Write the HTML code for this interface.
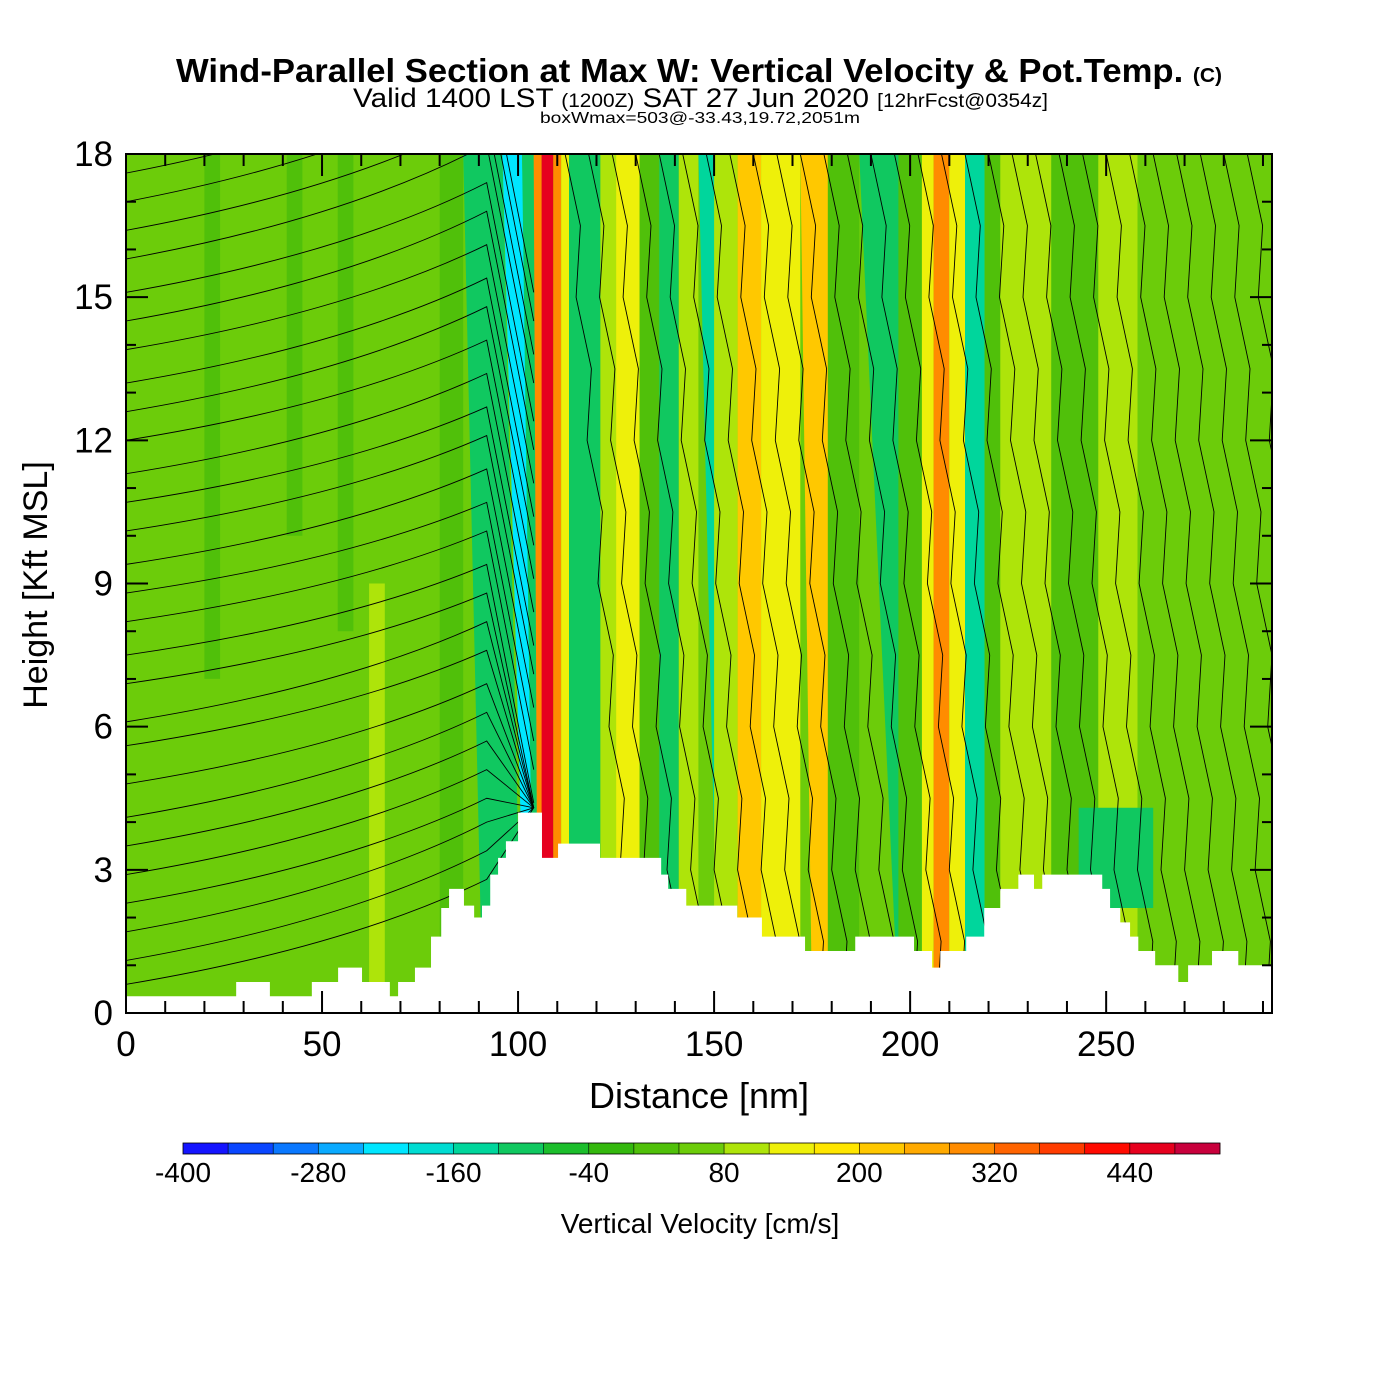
<!DOCTYPE html>
<html><head><meta charset="utf-8">
<style>
html,body{margin:0;padding:0;background:#fff;}
svg{display:block;}
text{font-family:"Liberation Sans",sans-serif;}
</style></head>
<body>
<svg id="chart" width="1400" height="1400" viewBox="0 0 1400 1400" xmlns="http://www.w3.org/2000/svg">
<rect width="1400" height="1400" fill="#fff"/>
<text x="176" y="82" font-size="33" font-weight="bold" textLength="1046" lengthAdjust="spacingAndGlyphs">Wind-Parallel Section at Max W: Vertical Velocity &amp; Pot.Temp. <tspan font-size="20">(C)</tspan></text>
<text x="353" y="107" font-size="27" textLength="695" lengthAdjust="spacingAndGlyphs">Valid 1400 LST <tspan font-size="19">(1200Z)</tspan> SAT 27 Jun 2020 <tspan font-size="19">[12hrFcst@0354z]</tspan></text>
<text x="540" y="123" font-size="16" textLength="320" lengthAdjust="spacingAndGlyphs">boxWmax=503@-33.43,19.72,2051m</text>
<defs><clipPath id="plotclip"><rect x="126" y="154" width="1146" height="859"/></clipPath></defs>
<g id="field" clip-path="url(#plotclip)"></g>
<g id="contours" clip-path="url(#plotclip)"></g>
<g id="terrain" clip-path="url(#plotclip)"></g>
<rect x="126" y="154" width="1146" height="859" fill="none" stroke="#000" stroke-width="2"/>
<g id="axes"></g>
<g id="colorbar"></g>
<text x="699" y="1108" text-anchor="middle" font-size="36">Distance [nm]</text>
<text x="0" y="0" transform="translate(47,585) rotate(-90)" text-anchor="middle" font-size="34">Height [Kft MSL]</text>
<text x="700" y="1233" text-anchor="middle" font-size="28">Vertical Velocity [cm/s]</text>
</svg>
<script>
// ---- data ----
const binColors = ["#1414ff","#0a46ff","#0a78ff","#0aaaff","#00e6ff","#00dcd2","#00d69c","#10c860","#1cbe2c","#34b80e","#50c00a","#6ccc0a","#aee40a","#eef00a","#ffe600","#ffc800","#ffaa00","#ff8c00","#ff6400","#ff3c00","#ff0a00","#e6001e","#c8003c"];
const cbTickLabels = ["-400","-280","-160","-40","80","200","320","440"];
const backgroundW = 50;
// vertical velocity bands: left nm, right nm, w (cm/s), shift at ground (nm), min/max height (kft)
const bandLeft  = [20,41,54,62,80,86,96,101,104,106,109,111,113,121,125,131,136,141,146,150,156,162,172,179,187,197,203,206,210,214,219,223,236,248,243];
const bandRight = [24,45,58,66,86,96,101,104,106,109,111,113,121,125,131,136,141,146,150,156,162,172,179,187,197,203,206,210,214,219,223,236,248,258,262];
const bandW     = [0,0,0,100,0,-100,-240,-120,300,440,280,150,-100,90,150,0,-100,80,-160,80,200,140,220,0,-110,0,150,300,150,-160,0,100,0,100,-120];
const bandShift = [0,0,0,0,0,5,6,3,1,0,0,0,0,0,0,0,0,0,5,0,0,0,3,0,10,0,0,0,0,0,0,0,0,0,0];
const bandLo    = [7,10,8,0,0,0,0,0,0,0,0,0,0,0,0,0,0,0,0,0,0,0,0,0,0,0,0,0,0,0,0,0,0,0,2.2];
const bandHi    = [18,18,18,9,18,18,18,18,18,18,18,18,18,18,18,18,18,18,18,18,18,18,18,18,18,18,18,18,18,18,18,18,18,18,4.3];
// terrain step profile
const terrainX = [0,28.1,36.7,47.4,54.1,60.2,67.3,69.4,73.7,77.8,80.4,82.4,86.2,88.8,90.8,92.9,94.9,96.9,100,106.1,110.2,120.9,136.5,138.3,142.9,155.9,162.2,173.2,186,201,205.6,207.7,214.3,218.9,223,227.6,231.6,233.7,249,251,253.6,256.1,258.2,262.5,268.4,270.9,277,283.7];
const terrainH = [0.35,0.65,0.35,0.65,0.95,0.65,0.35,0.65,0.95,1.6,2.2,2.6,2.25,2.0,2.25,2.9,3.25,3.6,4.2,3.25,3.55,3.25,2.9,2.6,2.25,2.0,1.6,1.3,1.6,1.3,0.95,1.3,1.6,2.2,2.6,2.9,2.6,2.9,2.6,2.2,1.9,1.6,1.3,1.0,0.65,1.0,1.3,1.0];
// theta contours (left region): height at 0 nm and at 92 nm
const contourLeftH = [0.6,1.1,1.7,2.3,2.9,3.5,4.1,4.8,5.6,6.1,6.9,7.5,8.2,8.8,9.4,10.1,10.7,11.3,12,12.6,13.2,13.9,14.5,15.1,15.8,16.4,17.0,17.6];
const contourMidH  = [2.8,3.4,4.0,4.5,5.1,5.7,6.3,6.9,7.6,8.2,8.8,9.4,10.1,10.7,11.4,12.1,12.7,13.4,14.1,14.8,15.4,16.1,16.8,17.4,18.2,18.8,19.5,20.1];
// right-region contour start positions at top (nm)
const rightContourX = [112,118,124,130,136,142,148,154,160,166,172,178,184,190,196,202,208,214,220,226,232,238,244,250,256,262,268,274,280,286];
const xTicks = [0,50,100,150,200,250];
const yTicks = [0,3,6,9,12,15,18];
// ---- axes ----
const X0=126,X1=1272,Y0=1013,Y1=154,XMAX=292.3,YMAX=18;
const sx = v => X0 + v/XMAX*(X1-X0);
const sy = v => Y0 - v/YMAX*(Y0-Y1);
const NS="http://www.w3.org/2000/svg";
function mk(tag, attrs, parent){const e=document.createElementNS(NS,tag);for(const k in attrs)e.setAttribute(k,attrs[k]);parent.appendChild(e);return e;}
function colorFor(w){let i=Math.floor((w+400)/40);i=Math.max(0,Math.min(binColors.length-1,i));return binColors[i];}
const field=document.getElementById('field');
const bg=mk('rect',{x:X0,y:Y1,width:X1-X0,height:Y0-Y1,fill:colorFor(backgroundW)},field);


for(let i=0;i<bandLeft.length;i++){
  const hT=bandHi[i],hB=bandLo[i];
  const off=h=>bandShift[i]*(18-h)/18;
  const pts=[[bandLeft[i]+off(hT),hT],[bandRight[i]+off(hT),hT],[bandRight[i]+off(hB),hB],[bandLeft[i]+off(hB),hB]].map(p=>sx(p[0]).toFixed(1)+','+sy(p[1]).toFixed(1)).join(' ');
  const p=mk('polygon',{points:pts,fill:colorFor(bandW[i])},field);
  
  
}
// contours
const cg=document.getElementById('contours');
for(let i=0;i<contourLeftH.length;i++){
  const a=contourLeftH[i],b=contourMidH[i];
  const d=`M${sx(0)},${sy(a)} C${sx(40)},${sy(a+(b-a)*0.25)} ${sx(70)},${sy(a+(b-a)*0.6)} ${sx(92)},${sy(b)} L${sx(104)},${sy(Math.max(4.3,b-5))}`;
  const p=mk('path',{d:d,fill:'none',stroke:'#000','stroke-width':0.9},cg);
  
  
}
for(let i=0;i<rightContourX.length;i++){
  const x=rightContourX[i];let d='';
  for(let k=0;k<=12;k++){const h=18-k*1.5;const xx=x+k*1.4+((k%2)?2.5:0);d+=(k?'L':'M')+sx(xx).toFixed(1)+','+sy(h).toFixed(1);}
  const p=mk('path',{d:d,fill:'none',stroke:'#000','stroke-width':0.9},cg);
  
  
}
// terrain
let td=`M${sx(0)},${sy(0)}`;
for(let i=0;i<terrainX.length;i++){const xe=i+1<terrainX.length?terrainX[i+1]:XMAX;td+=` L${sx(terrainX[i])},${sy(terrainH[i])} L${sx(xe)},${sy(terrainH[i])}`;}
td+=` L${sx(XMAX)},${sy(0)} Z`;
const tp=mk('path',{d:td,fill:'#fff',stroke:'none'},document.getElementById('terrain'));


// ticks
const ax=document.getElementById('axes');


for(let v=0;v<=290;v+=10){const maj=v%50===0;const l=mk('line',{x1:sx(v),x2:sx(v),y1:Y0,y2:Y0-(maj?22:12),stroke:'#000','stroke-width':2},ax);
 const t=mk('line',{x1:sx(v),x2:sx(v),y1:Y1,y2:Y1+(maj?22:12),stroke:'#000','stroke-width':2},ax);}
for(let v=0;v<=18;v+=1){const maj=v%3===0;const l=mk('line',{x1:X0,x2:X0+(maj?22:10),y1:sy(v),y2:sy(v),stroke:'#000','stroke-width':2},ax);
 const r=mk('line',{x1:X1,x2:X1-(maj?22:10),y1:sy(v),y2:sy(v),stroke:'#000','stroke-width':2},ax);}
xTicks.forEach(v=>{const t=mk('text',{x:sx(v),y:1056,'text-anchor':'middle','font-size':35},ax);t.textContent=v;});
yTicks.forEach(v=>{const t=mk('text',{x:113,y:sy(v)+12,'text-anchor':'end','font-size':35},ax);t.textContent=v;});
// colorbar
const cb=document.getElementById('colorbar');


const cbX=183,cbW=1037/binColors.length;
binColors.forEach((c,i)=>{const r=mk('rect',{x:cbX+i*cbW,y:1143,width:cbW+0.3,height:11,fill:c},cb);});
mk('rect',{x:cbX,y:1143,width:1037,height:11,fill:'none',stroke:'#000','stroke-width':0.8},cb);
for(let i=1;i<binColors.length;i++)mk('line',{x1:cbX+i*cbW,x2:cbX+i*cbW,y1:1143,y2:1154,stroke:'#000','stroke-width':0.6},cb);
cbTickLabels.forEach((s,i)=>{const t=mk('text',{x:cbX+i*3*cbW,y:1182,'text-anchor':'middle','font-size':28},cb);t.textContent=s;});
</script>
</body></html>
